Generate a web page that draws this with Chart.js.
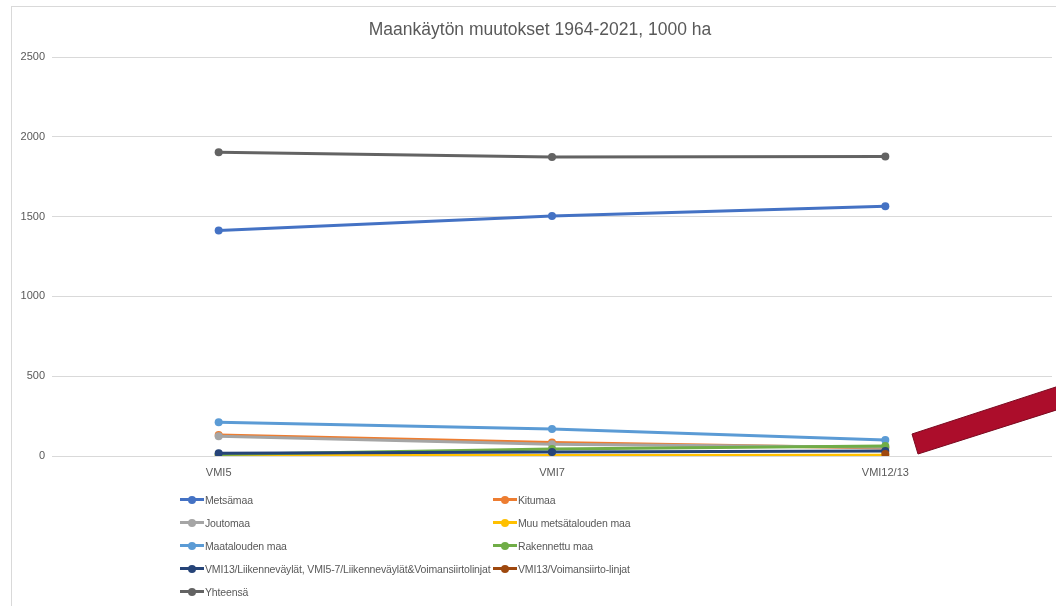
<!DOCTYPE html>
<html><head><meta charset="utf-8">
<script src="https://cdn.jsdelivr.net/npm/chart.js@4"></script>
<style>
html,body{margin:0;padding:0;background:#fff;width:1056px;height:606px;overflow:hidden;font-family:"Liberation Sans",sans-serif;}
#frame{position:absolute;left:11px;top:6px;width:1100px;height:700px;border:1px solid #d9d9d9;box-sizing:border-box;}
#wrap{position:absolute;left:0;top:0;width:1056px;height:606px;}
#title{position:absolute;left:0;top:19px;width:1080px;text-align:center;font-size:17.5px;line-height:21px;color:#595959;white-space:nowrap;}
#legend{position:absolute;left:180px;top:488px;display:grid;grid-template-columns:313px 313px;grid-auto-rows:23px;}
.li{display:flex;align-items:center;font-size:10.5px;letter-spacing:-0.15px;color:#595959;white-space:nowrap;}
.mk{position:relative;flex:0 0 24px;width:24px;height:3px;margin-right:1px;}
.mk i{position:absolute;left:8px;top:-2.5px;width:8px;height:8px;border-radius:50%;}
</style></head>
<body>
<div id="frame"></div>
<div id="wrap"><canvas id="c" width="1056" height="606"></canvas></div>
<div id="title">Maankäytön muutokset 1964-2021, 1000 ha</div>
<div id="legend"></div>
<script>
const categories = ["VMI5", "VMI7", "VMI12/13"];
const seriesNames = ["Metsämaa","Kitumaa","Joutomaa","Muu metsätalouden maa","Maatalouden maa","Rakennettu maa","VMI13/Liikenneväylät, VMI5-7/Liikenneväylät&Voimansiirtolinjat","VMI13/Voimansiirto-linjat","Yhteensä"];
const metsamaa = [1413, 1503, 1565];
const kitumaa = [132, 85, 50];
const joutomaa = [123, 74, 55];
const muuMetsatalous = [3, 3, 5];
const maatalous = [212, 169, 100];
const rakennettu = [10, 44, 62];
const liikennevaylat = [18, 25, 31];
const voimansiirto = [null, null, 12];
const yhteensa = [1903, 1873, 1877];
const yTicks = [0, 500, 1000, 1500, 2000, 2500];
const colors = ["#4472C4","#ED7D31","#A5A5A5","#FFC000","#5B9BD5","#70AD47","#264478","#9E480E","#636363"];
const values = [metsamaa,kitumaa,joutomaa,muuMetsatalous,maatalous,rakennettu,liikennevaylat,voimansiirto,yhteensa];

const datasets = values.map((v,i)=>({
  label: seriesNames[i], data: v, borderColor: colors[i], backgroundColor: colors[i],
  borderWidth: 3, pointRadius: 4, pointHoverRadius: 4, pointBorderWidth: 0,
  order: values.length - i, tension: 0, spanGaps: false
}));

const arrowPlugin = {
  id: 'arrow',
  afterDraw(chart){
    const c = chart.ctx;
    c.save();
    c.beginPath();
    c.moveTo(912,434); c.lineTo(1062,385); c.lineTo(1069,406); c.lineTo(918,454); c.closePath();
    c.fillStyle = '#AC0D2B'; c.fill();
    c.strokeStyle = '#7A0A20'; c.lineWidth = 1; c.stroke();
    c.restore();
  }
};

const fontFam = '"Liberation Sans",sans-serif';
const chart = new Chart(document.getElementById('c'), {
  type: 'line',
  data: { labels: categories, datasets },
  options: {
    responsive: false, animation: false, devicePixelRatio: 1,
    layout: { padding: { left: 0, right: 2, top: 57, bottom: 0 } },
    plugins: {
      legend: { display: false },
      tooltip: { enabled: false },
      title: { display: false }
    },
    scales: {
      x: {
        offset: true,
        grid: { display: false, drawTicks: false },
        border: { display: false },
        ticks: { color: '#595959', font: { family: fontFam, size: 11 }, padding: 10 },
        afterFit(s){ s.height = 150; }
      },
      y: {
        min: 0, max: 2500,
        afterBuildTicks(s){ s.ticks = yTicks.map(v=>({value:v})); },
        grid: { color: '#d9d9d9', drawTicks: false, lineWidth: 1 },
        border: { display: false },
        ticks: { color: '#595959', font: { family: fontFam, size: 11 }, padding: 7, callback: v => String(v) },
        afterFit(s){ s.width = 52; }
      }
    }
  },
  plugins: [arrowPlugin]
});

const lg = document.getElementById('legend');
datasets.forEach(d=>{
  const el = document.createElement('div'); el.className='li';
  const mk = document.createElement('span'); mk.className='mk'; mk.style.background=d.borderColor;
  const dot = document.createElement('i'); dot.style.background=d.borderColor; mk.appendChild(dot);
  el.appendChild(mk); el.appendChild(document.createTextNode(d.label));
  lg.appendChild(el);
});
</script>
</body></html>
